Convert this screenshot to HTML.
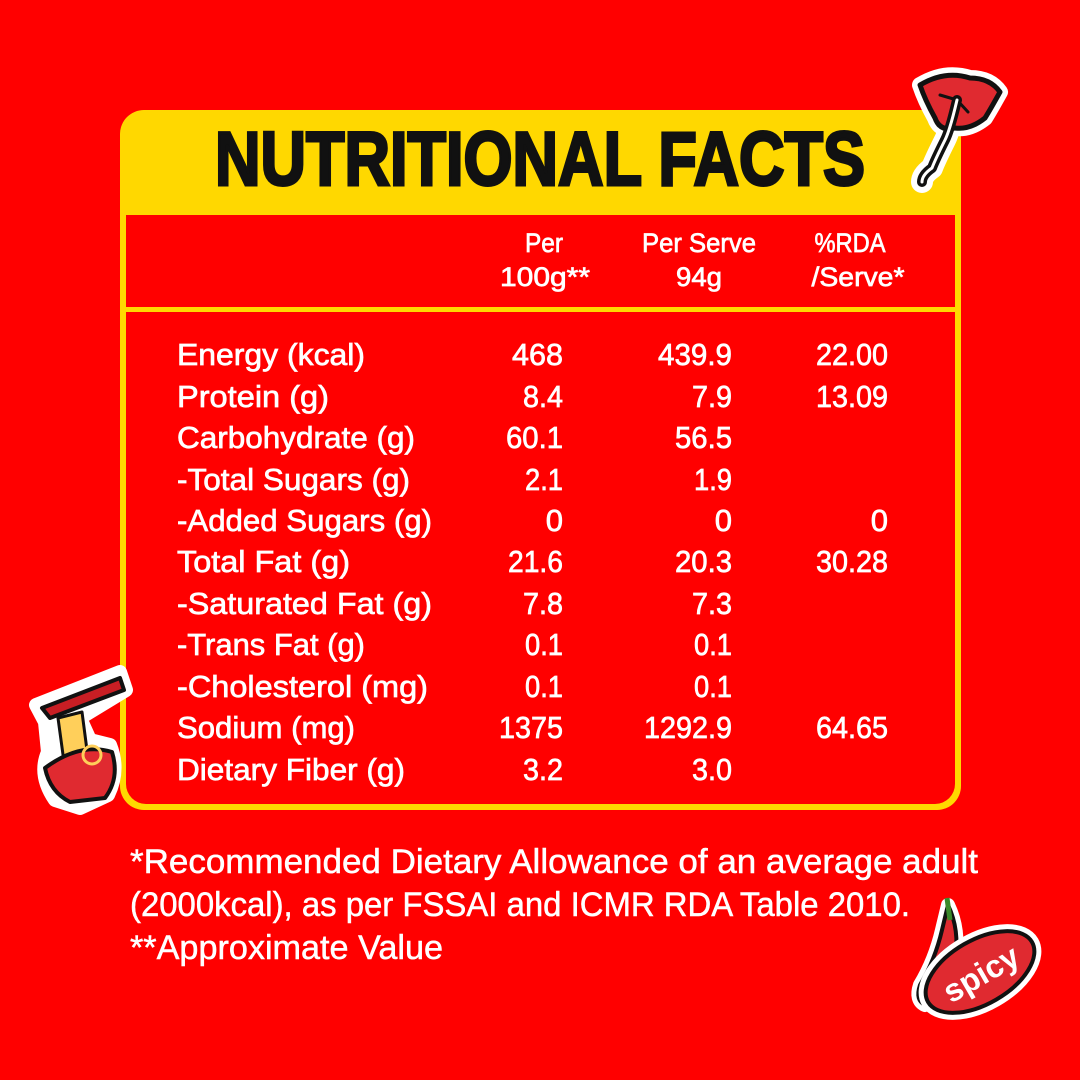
<!DOCTYPE html>
<html><head><meta charset="utf-8"><style>
html,body{margin:0;padding:0;background:#ff0000;}
svg{display:block}
text{font-family:"Liberation Sans",sans-serif;}
</style></head><body>
<svg width="1080" height="1080" viewBox="0 0 1080 1080" xmlns="http://www.w3.org/2000/svg">
<rect width="1080" height="1080" fill="#ff0000"/>
<rect x="120" y="110" width="841" height="700" rx="24" fill="#ffd800"/>
<rect x="126" y="215" width="829" height="589" rx="20" fill="#ff0000"/>
<rect x="126" y="215" width="829" height="20" fill="#ff0000"/>
<rect x="126" y="307" width="829" height="5" fill="#ffd800"/>
<text x="215" y="185" font-size="76" font-weight="bold" fill="#111" stroke="#111" stroke-width="3" textLength="650" lengthAdjust="spacingAndGlyphs">NUTRITIONAL FACTS</text>
<g fill="#fff" stroke="#fff" stroke-width="0.7" font-size="27" text-anchor="middle">
<text x="544" y="252" textLength="38" lengthAdjust="spacingAndGlyphs">Per</text>
<text x="545" y="286" textLength="90" lengthAdjust="spacingAndGlyphs">100g**</text>
<text x="699" y="252" textLength="114" lengthAdjust="spacingAndGlyphs">Per Serve</text>
<text x="699" y="286" textLength="46" lengthAdjust="spacingAndGlyphs">94g</text>
<text x="850" y="252" textLength="71" lengthAdjust="spacingAndGlyphs">%RDA</text>
<text x="858" y="286" textLength="93" lengthAdjust="spacingAndGlyphs">/Serve*</text>
</g>
<g fill="#fff" stroke="#fff" stroke-width="0.7" font-size="31">
<text x="177" y="365" textLength="188" lengthAdjust="spacingAndGlyphs">Energy (kcal)</text>
<text x="177" y="407" textLength="152" lengthAdjust="spacingAndGlyphs">Protein (g)</text>
<text x="177" y="448" textLength="238" lengthAdjust="spacingAndGlyphs">Carbohydrate (g)</text>
<text x="177" y="490" textLength="233" lengthAdjust="spacingAndGlyphs">-Total Sugars (g)</text>
<text x="177" y="531" textLength="255" lengthAdjust="spacingAndGlyphs">-Added Sugars (g)</text>
<text x="177" y="572" textLength="173" lengthAdjust="spacingAndGlyphs">Total Fat (g)</text>
<text x="177" y="614" textLength="255" lengthAdjust="spacingAndGlyphs">-Saturated Fat (g)</text>
<text x="177" y="655" textLength="188" lengthAdjust="spacingAndGlyphs">-Trans Fat (g)</text>
<text x="177" y="697" textLength="251" lengthAdjust="spacingAndGlyphs">-Cholesterol (mg)</text>
<text x="177" y="738" textLength="178" lengthAdjust="spacingAndGlyphs">Sodium (mg)</text>
<text x="177" y="780" textLength="228" lengthAdjust="spacingAndGlyphs">Dietary Fiber (g)</text>
</g>
<g fill="#fff" stroke="#fff" stroke-width="0.7" font-size="31" text-anchor="end">
<text x="563" y="365" textLength="51" lengthAdjust="spacingAndGlyphs">468</text>
<text x="732" y="365" textLength="74" lengthAdjust="spacingAndGlyphs">439.9</text>
<text x="888" y="365" textLength="72" lengthAdjust="spacingAndGlyphs">22.00</text>
<text x="563" y="407" textLength="40" lengthAdjust="spacingAndGlyphs">8.4</text>
<text x="732" y="407" textLength="40" lengthAdjust="spacingAndGlyphs">7.9</text>
<text x="888" y="407" textLength="72" lengthAdjust="spacingAndGlyphs">13.09</text>
<text x="563" y="448" textLength="57" lengthAdjust="spacingAndGlyphs">60.1</text>
<text x="732" y="448" textLength="57" lengthAdjust="spacingAndGlyphs">56.5</text>
<text x="563" y="490" textLength="38" lengthAdjust="spacingAndGlyphs">2.1</text>
<text x="732" y="490" textLength="38" lengthAdjust="spacingAndGlyphs">1.9</text>
<text x="563" y="531">0</text>
<text x="732" y="531">0</text>
<text x="888" y="531">0</text>
<text x="563" y="572" textLength="55" lengthAdjust="spacingAndGlyphs">21.6</text>
<text x="732" y="572" textLength="57" lengthAdjust="spacingAndGlyphs">20.3</text>
<text x="888" y="572" textLength="72" lengthAdjust="spacingAndGlyphs">30.28</text>
<text x="563" y="614" textLength="40" lengthAdjust="spacingAndGlyphs">7.8</text>
<text x="732" y="614" textLength="40" lengthAdjust="spacingAndGlyphs">7.3</text>
<text x="563" y="655" textLength="38" lengthAdjust="spacingAndGlyphs">0.1</text>
<text x="732" y="655" textLength="38" lengthAdjust="spacingAndGlyphs">0.1</text>
<text x="563" y="697" textLength="38" lengthAdjust="spacingAndGlyphs">0.1</text>
<text x="732" y="697" textLength="38" lengthAdjust="spacingAndGlyphs">0.1</text>
<text x="563" y="738" textLength="64" lengthAdjust="spacingAndGlyphs">1375</text>
<text x="732" y="738" textLength="88" lengthAdjust="spacingAndGlyphs">1292.9</text>
<text x="888" y="738" textLength="72" lengthAdjust="spacingAndGlyphs">64.65</text>
<text x="563" y="780" textLength="40" lengthAdjust="spacingAndGlyphs">3.2</text>
<text x="732" y="780" textLength="40" lengthAdjust="spacingAndGlyphs">3.0</text>
</g>
<g fill="#fff" stroke="#fff" stroke-width="0.5" font-size="34">
<text x="130" y="873" textLength="848" lengthAdjust="spacingAndGlyphs">*Recommended Dietary Allowance of an average adult</text>
<text x="130" y="916" textLength="780" lengthAdjust="spacingAndGlyphs">(2000kcal), as per FSSAI and ICMR RDA Table 2010.</text>
<text x="130" y="959" textLength="313" lengthAdjust="spacingAndGlyphs">**Approximate Value</text>
</g>
<!-- lips sticker -->
<g stroke-linejoin="round" stroke-linecap="round">
<path d="M920 85 Q945 70 970 78 Q990 78 1000 92 Q990 110 985 118 Q970 130 955 128 Q940 132 935 118 Q925 100 920 85Z" fill="#fff" stroke="#fff" stroke-width="16"/>
<path d="M957 100 Q950 130 945 140 Q935 160 932 168 Q922 175 922 182" fill="none" stroke="#fff" stroke-width="22"/>
<path d="M920 85 Q945 70 970 78 Q990 78 1000 92 Q990 110 985 118 Q970 130 955 128 Q940 132 935 118 Q925 100 920 85Z" fill="#e02a30" stroke="#111" stroke-width="5"/>
<path d="M940 95 L957 100 L968 112" fill="none" stroke="#111" stroke-width="3"/>
<path d="M957 100 Q950 130 945 140 Q935 160 932 168 Q922 175 922 182" fill="none" stroke="#111" stroke-width="10"/>
<path d="M957 100 Q950 130 945 140 Q935 160 932 168 Q922 175 922 182" fill="none" stroke="#fff" stroke-width="3"/>
</g>
<!-- noodle bowl -->
<g stroke-linejoin="round">
<path d="M36 705 L120 672 L126 690 L80 718 L90 740 L110 745 Q120 770 108 795 L80 808 L55 800 Q38 775 48 752 L45 722Z" fill="#fff" stroke="#fff" stroke-width="14"/>
<path d="M42 708 L120 678 L124 690 L50 718Z" fill="#c81e24" stroke="#111" stroke-width="4"/>
<path d="M58 718 L82 712 L88 758 L64 762Z" fill="#ffcf5a" stroke="#111" stroke-width="3"/>
<path d="M45 768 Q80 742 112 752 Q120 778 105 798 L70 802 Q50 792 45 768Z" fill="#e02a30" stroke="#111" stroke-width="4"/>
<circle cx="92" cy="755" r="9" fill="none" stroke="#ffcf5a" stroke-width="3"/>
</g>
<!-- chili + spicy -->
<g stroke-linejoin="round">
<path d="M948 905 Q960 930 955 960 Q945 990 925 1005 Q915 1000 920 985 Q935 960 942 930Z" fill="#e02a30" stroke="#fff" stroke-width="14"/>
<path d="M948 905 Q960 930 955 960 Q945 990 925 1005 Q915 1000 920 985 Q935 960 942 930Z" fill="#e02a30" stroke="#111" stroke-width="4"/>
<path d="M947 898 L950 920" stroke="#3a8a2a" stroke-width="5"/>
<ellipse cx="980" cy="972" rx="60" ry="32" transform="rotate(-30 980 972)" fill="#e02a30" stroke="#fff" stroke-width="14"/>
<ellipse cx="980" cy="972" rx="60" ry="32" transform="rotate(-30 980 972)" fill="#e02a30" stroke="#111" stroke-width="4"/>
<text x="980" y="985" font-family="Liberation Serif,serif" font-weight="bold" font-size="32" fill="#fff" text-anchor="middle" transform="rotate(-30 980 972)">spicy</text>
</g>
</svg>
</body></html>
